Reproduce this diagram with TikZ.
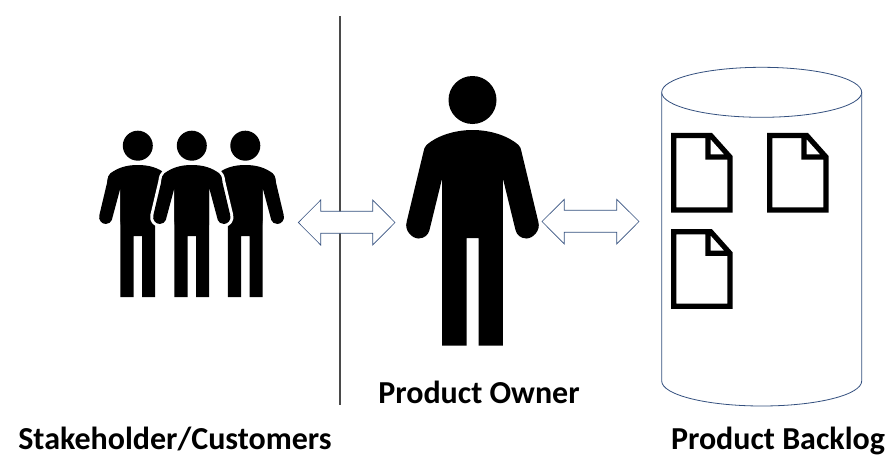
\documentclass[tikz,border=0pt]{standalone}
\usepackage{fontspec}
\setmainfont{Carlito}
\definecolor{outlineblue}{HTML}{34507F}
\definecolor{rulegray}{HTML}{4A4A4A}
\tikzset{
  x=1pt,y=-1pt,
  blockarrow/.style={draw=outlineblue,fill=white,line width=0.65pt,miter limit=10},
  tank/.style={draw=outlineblue,fill=white,line width=0.8pt},
  sheet/.style={draw=black,line width=5.2pt,miter limit=10,line join=miter},
  caption/.style={font=\bfseries\fontsize{32}{36}\selectfont,inner sep=0pt,anchor=base},
  halo/.style={draw=white,line width=6pt,fill=white,line join=round}
}
% small figure outline pieces, relative to top centre of the torso
\newcommand{\smallbody}{(0,0) .. controls (12,0) and (20,3) .. (27,8) .. controls (29,9.5) and (30,12) .. (30.5,16.7) -- (17.4,23) -- (17.4,132) -- (4.2,132) -- (4.2,71) -- (-4.2,71) -- (-4.2,132) -- (-17.4,132) -- (-17.4,23) -- (-30.5,16.7) .. controls (-30,12) and (-29,9.5) .. (-27,8) .. controls (-20,3) and (-12,0) .. (0,0) -- cycle}
\newcommand{\smallleftarm}{(-17.4,60) -- (-17.4,23) -- (-26,55) .. controls (-26.7,57) and (-29,59) .. (-32,59) .. controls (-36,59) and (-39.8,55) .. (-38.4,50) -- (-30.5,16.7) .. controls (-30,12) and (-29,9.5) .. (-27,8) -- (-12,8) -- cycle}
\newcommand{\smallrightarm}{(17.4,60) -- (17.4,23) -- (26,55) .. controls (26.7,57) and (29,59) .. (32,59) .. controls (36,59) and (39.8,55) .. (38.4,50) -- (30.5,16.7) .. controls (30,12) and (29,9.5) .. (27,8) -- (12,8) -- cycle}
\newcommand{\docsheet}{(0,0) -- (37,0) -- (56.3,21.6) -- (56.3,74.6) -- (0,74.6) -- cycle (34.2,0) -- (34.2,21.6) -- (56.3,21.6)}
\begin{document}
\begin{tikzpicture}
\useasboundingbox (0,0) rectangle (895,471);
\fill[white] (0,0) rectangle (895,471);
% divider
\coordinate (ruletop) at (340,16);
\coordinate (rulebot) at (340,405);
\draw[rulegray,line width=1.3pt] (ruletop) -- (rulebot);
% block arrows
\draw[blockarrow] (298.3,222.5) -- (320.7,200) -- (320.7,211.3) -- (372.7,211.3) -- (372.7,200) -- (395,222.5) -- (372.7,245) -- (372.7,233.3) -- (320.7,233.3) -- (320.7,245) -- cycle;
\draw[blockarrow] (542,221.5) -- (564.3,199.3) -- (564.3,210.3) -- (616.7,210.3) -- (616.7,199.3) -- (639,221.5) -- (616.7,244) -- (616.7,232.3) -- (564.3,232.3) -- (564.3,244) -- cycle;
% stakeholders
\fill[black] (137.8,145.7) circle[radius=15];
\fill[black] (191.8,145.7) circle[radius=15];
\fill[black] (245.3,145.7) circle[radius=15];
\begin{scope}[shift={(137.8,165)}]
  \fill[black] \smallbody;
  \fill[black] \smallleftarm;
  \fill[black] (0,0) -- (27,8) -- (30.5,16.7) -- (30.5,30) -- (0,30) -- cycle;
\end{scope}
\begin{scope}[shift={(245.3,165)}]
  \fill[black] \smallbody;
  \fill[black] \smallrightarm;
  \fill[black] (0,0) -- (-27,8) -- (-30.5,16.7) -- (-30.5,30) -- (0,30) -- cycle;
\end{scope}
\begin{scope}[shift={(191.8,165)}]
  \draw[halo] \smallleftarm;
  \draw[halo] \smallrightarm;
  \fill[black] \smallbody;
  \fill[black] \smallleftarm;
  \fill[black] \smallrightarm;
\end{scope}
% product owner
\fill[black] (472.5,100) circle[radius=24];
\begin{scope}[shift={(472.5,130)}]
  \fill[black] (0,0) .. controls (18,0) and (36,6) .. (46,15) .. controls (48,17) and (48.5,19) .. (49,21.7)
    -- (65.8,91.7) .. controls (68.5,101) and (60,108.5) .. (54,108.5) .. controls (48,108.5) and (44,104.5) .. (43,100)
    -- (30.3,48) -- (30.3,215.7) -- (6,215.7) -- (6,108) -- (-6,108) -- (-6,215.7) -- (-30.3,215.7) -- (-30.3,48)
    -- (-43,100) .. controls (-44,104.5) and (-48,108.5) .. (-54,108.5) .. controls (-60,108.5) and (-68.5,101) .. (-65.8,91.7)
    -- (-49,21.7) .. controls (-48.5,19) and (-48,17) .. (-46,15) .. controls (-36,6) and (-18,0) .. (0,0) -- cycle;
\end{scope}
% backlog cylinder
\draw[tank] (661.7,92.3) -- (661.7,381) arc[start angle=180,end angle=0,x radius=100,y radius=25] -- (861.7,92.3);
\draw[tank] (761.7,92.3) ellipse[x radius=100,y radius=25];
% documents
\draw[sheet,shift={(673.7,135.4)}] \docsheet;
\draw[sheet,shift={(769.7,135.4)}] \docsheet;
\draw[sheet,shift={(673.7,231.7)}] \docsheet;
% captions
\node[caption] (stake) at (175,449) {Stakeholder/Customers};
\node[caption] (owner) at (479,403) {Product Owner};
\node[caption] (backlog) at (778,449) {Product Backlog};
\end{tikzpicture}
\end{document}
